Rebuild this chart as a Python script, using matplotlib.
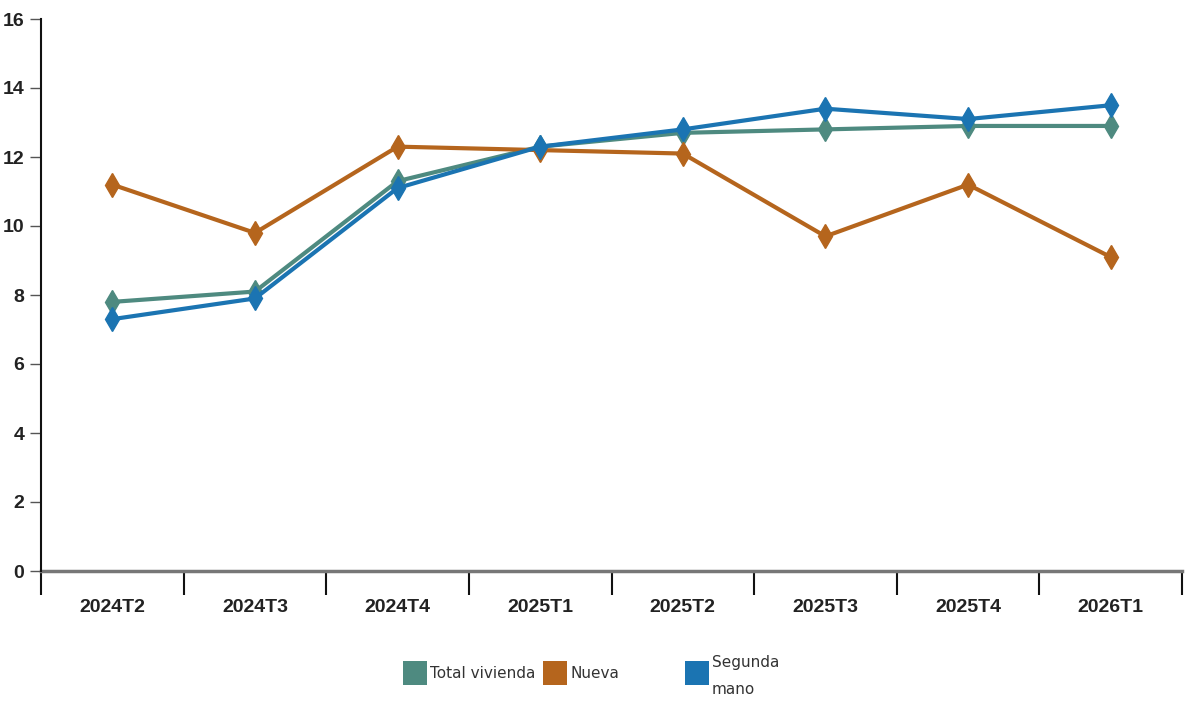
import matplotlib
matplotlib.use("Agg")
import matplotlib.pyplot as plt
from matplotlib.patches import Rectangle
import numpy as np

# Chart data.
quarters = ["2024T2", "2024T3", "2024T4", "2025T1",
            "2025T2", "2025T3", "2025T4", "2026T1"]
total_vivienda = [7.8, 8.1, 11.3, 12.3, 12.7, 12.8, 12.9, 12.9]
nueva = [11.2, 9.8, 12.3, 12.2, 12.1, 9.7, 11.2, 9.1]
segunda_mano = [7.3, 7.9, 11.1, 12.3, 12.8, 13.4, 13.1, 13.5]

series_names = ["Total vivienda", "Nueva", "Segunda\nmano"]
colors = ["#4E8A80", "#B5651D", "#1B74B2"]

plt.rcParams['font.family'] = ['Liberation Sans', 'DejaVu Sans']

W, H = 1200, 705
fig = plt.figure(figsize=(W / 100, H / 100), dpi=100)

# Axes placed in pixel terms.
left, right, top, bottom = 41, 1182, 19, 571
ax = fig.add_axes([left / W, (H - bottom) / H, (right - left) / W, (bottom - top) / H])

x = np.arange(len(quarters))
for vals, col in zip([total_vivienda, nueva, segunda_mano], colors):
    ax.plot(x, vals, color=col, linewidth=3, marker="d", markersize=12,
            markeredgecolor=col, solid_joinstyle="round", zorder=3)

# Y axis.
ax.set_ylim(0, 16)
ax.set_yticks(range(0, 17, 2))
ax.tick_params(axis="y", direction="out", length=8, width=1,
               color="#555555", labelsize=14, pad=4)
for lab in ax.get_yticklabels():
    lab.set_color("#222222")
    lab.set_fontweight("bold")
    lab.set_family(['Liberation Sans'])

# X axis: band scale, ticks at band edges, labels centred.
ax.set_xlim(-0.5, len(quarters) - 0.5)
ax.set_xticks(x)
ax.set_xticklabels(quarters, fontsize=14, color="#222222",
                   fontweight="bold", family=['Liberation Sans'])
ax.tick_params(axis="x", length=0, pad=20)
ax.set_xticks(np.arange(-0.5, len(quarters)), minor=True)
ax.tick_params(axis="x", which="minor", direction="out", length=17,
               width=1.5, color="#111111")

for s in ["top", "right"]:
    ax.spines[s].set_visible(False)
ax.spines["left"].set_color("#111111")
ax.spines["left"].set_linewidth(1.5)
ax.spines["bottom"].set_color("#777777")
ax.spines["bottom"].set_linewidth(2.5)
ax.spines["left"].set_zorder(4)

# Legend drawn by hand to keep the wrapped last label.
legend_x = [403, 543, 685]
text_x = [430, 570, 712]
for lx, tx, col, name in zip(legend_x, text_x, colors, series_names):
    fig.add_artist(Rectangle((lx / W, (H - 685) / H), 24 / W, 24 / H,
                             transform=fig.transFigure, facecolor=col,
                             edgecolor="none"))
    if "\n" in name:
        first, second = name.split("\n")
        fig.text(tx / W, (H - 662) / H, first, fontsize=11,
                 family=['DejaVu Sans'], color="#333333", va="center")
        fig.text(tx / W, (H - 690) / H, second, fontsize=11,
                 family=['DejaVu Sans'], color="#333333", va="center")
    else:
        fig.text(tx / W, (H - 674) / H, name, fontsize=11,
                 family=['DejaVu Sans'], color="#333333", va="center")

fig.savefig("out.png", dpi=100)
